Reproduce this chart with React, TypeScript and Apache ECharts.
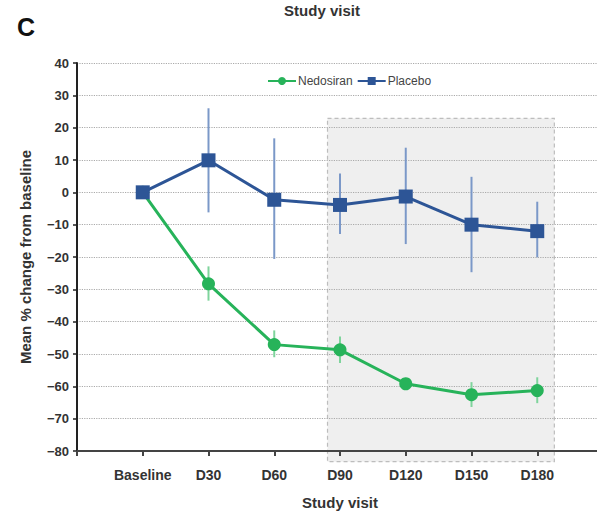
import React, { useEffect, useRef } from "react";
import * as echarts from "echarts";

const categories = ["Baseline", "D30", "D60", "D90", "D120", "D150", "D180"];
const nedosiranMean = [0, -28.3, -47.1, -48.7, -59.2, -62.6, -61.3];
const nedosiranLow = [0, -33.5, -51.0, -52.8, -61.0, -66.4, -65.2];
const nedosiranHigh = [0, -22.9, -42.7, -44.6, -57.4, -58.7, -57.2];
const placeboMean = [0, 9.9, -2.3, -3.9, -1.3, -10.0, -12.0];
const placeboLow = [0, -6.2, -20.6, -12.9, -16.0, -24.7, -20.1];
const placeboHigh = [0, 26.0, 16.7, 5.8, 13.8, 4.8, -2.9];
const yMin = -80;
const yMax = 40;
const yInterval = 10;
// shaded follow-up window (in axis units)
const shadeX = [3.81, 7.26];
const shadeY = [22.9, -83.3];

const GREEN = "#27b35a";
const GREEN_ERR = "#7fd49c";
const BLUE = "#2d5596";
const BLUE_ERR = "#7b98c8";
const FONT = "Liberation Sans, Arial, Helvetica, sans-serif";

const pos = (i: number) => i + 1;

function errData(low: number[], high: number[]) {
  return categories
    .map((_, i) => [pos(i), low[i], high[i]])
    .filter((d) => d[1] !== d[2]);
}

function errSeries(low: number[], high: number[], color: string) {
  return {
    type: "custom",
    data: errData(low, high),
    encode: { x: 0, y: [1, 2] },
    z: 1,
    silent: true,
    renderItem: (_p: any, api: any) => {
      const x = api.value(0);
      const a = api.coord([x, api.value(1)]);
      const b = api.coord([x, api.value(2)]);
      return {
        type: "line",
        shape: { x1: a[0], y1: a[1], x2: b[0], y2: b[1] },
        style: { stroke: color, lineWidth: 2 },
      };
    },
  };
}

export default function App() {
  const ref = useRef<HTMLDivElement>(null);
  useEffect(() => {
    document.body.style.margin = "0";
    const chart = echarts.init(ref.current!, null, { renderer: "svg" });
    const option: any = {
      animation: false,
      backgroundColor: "#ffffff",
      textStyle: { fontFamily: FONT },
      grid: {
        left: 77,
        width: 526,
        top: 63,
        height: 388,
        containLabel: false,
        outerBoundsMode: "none",
      },
      legend: {
        data: ["Nedosiran", "Placebo"],
        left: 262,
        top: 70,
        itemWidth: 28,
        itemHeight: 10,
        itemGap: 4,
        textStyle: { fontSize: 12, color: "#444", fontFamily: FONT, padding: [0, 0, 0, -3] },
      },
      xAxis: {
        type: "value",
        min: 0,
        max: 8,
        interval: 1,
        name: "Study visit",
        nameLocation: "middle",
        nameGap: 44,
        nameTextStyle: { fontSize: 15, fontWeight: "bold", color: "#333", fontFamily: FONT },
        axisLine: { show: true, onZero: false, lineStyle: { color: "#444", width: 2 } },
        axisTick: { show: true, length: 5, lineStyle: { color: "#444", width: 2 } },
        axisLabel: {
          margin: 17,
          fontSize: 14,
          fontWeight: "bold",
          color: "#333",
          fontFamily: FONT,
          formatter: (v: number) => categories[v - 1] ?? "",
        },
        splitLine: { show: false },
      },
      yAxis: {
        type: "value",
        min: yMin,
        max: yMax,
        interval: yInterval,
        name: "Mean % change from baseline",
        nameLocation: "middle",
        nameGap: 44,
        nameTextStyle: { fontSize: 15, fontWeight: "bold", color: "#333", fontFamily: FONT },
        axisLine: { show: true, lineStyle: { color: "#222", width: 2 } },
        axisTick: { show: true, length: 4, lineStyle: { color: "#222", width: 1.5 } },
        axisLabel: {
          margin: 8,
          fontSize: 13,
          fontWeight: "bold",
          color: "#333",
          fontFamily: FONT,
          formatter: (v: number) => (v < 0 ? "\u2212" + Math.abs(v) : String(v)),
        },
        splitLine: { show: true, lineStyle: { color: "#aaa", type: "dotted", width: 1.2 } },
      },
      series: [
        errSeries(nedosiranLow, nedosiranHigh, GREEN_ERR),
        errSeries(placeboLow, placeboHigh, BLUE_ERR),
        {
          name: "Nedosiran",
          type: "line",
          data: nedosiranMean.map((v, i) => [pos(i), v]),
          symbol: "circle",
          symbolSize: 13,
          itemStyle: { color: GREEN },
          lineStyle: { color: GREEN, width: 3 },
          z: 3,
        },
        {
          name: "Placebo",
          type: "line",
          data: placeboMean.map((v, i) => [pos(i), v]),
          symbol: "rect",
          symbolSize: 14,
          itemStyle: { color: BLUE },
          lineStyle: { color: BLUE, width: 3 },
          z: 4,
        },
      ],
    };
    chart.setOption(option);
    const p1 = chart.convertToPixel({ gridIndex: 0 }, [shadeX[0], shadeY[0]]) as number[];
    const p2 = chart.convertToPixel({ gridIndex: 0 }, [shadeX[1], shadeY[1]]) as number[];
    chart.setOption({
      graphic: [
        {
          type: "rect",
          z: -10,
          silent: true,
          shape: { x: p1[0], y: p1[1], width: p2[0] - p1[0], height: p2[1] - p1[1] },
          style: { fill: "#efefef", stroke: "#bdbdbd", lineWidth: 1.2, lineDash: [4, 3] },
        },
        {
          type: "text",
          left: 17,
          top: 14,
          style: { text: "C", font: `bold 25px ${FONT}`, fill: "#111" },
        },
        {
          type: "text",
          x: 322,
          y: 10,
          style: {
            text: "Study visit",
            font: `bold 15px ${FONT}`,
            fill: "#333",
            textAlign: "center",
            textVerticalAlign: "middle",
          },
        },
      ],
    });
    return () => chart.dispose();
  }, []);
  return (
    <div
      ref={ref}
      style={{ position: "absolute", left: 0, top: 0, width: 597, height: 512 }}
    />
  );
}
